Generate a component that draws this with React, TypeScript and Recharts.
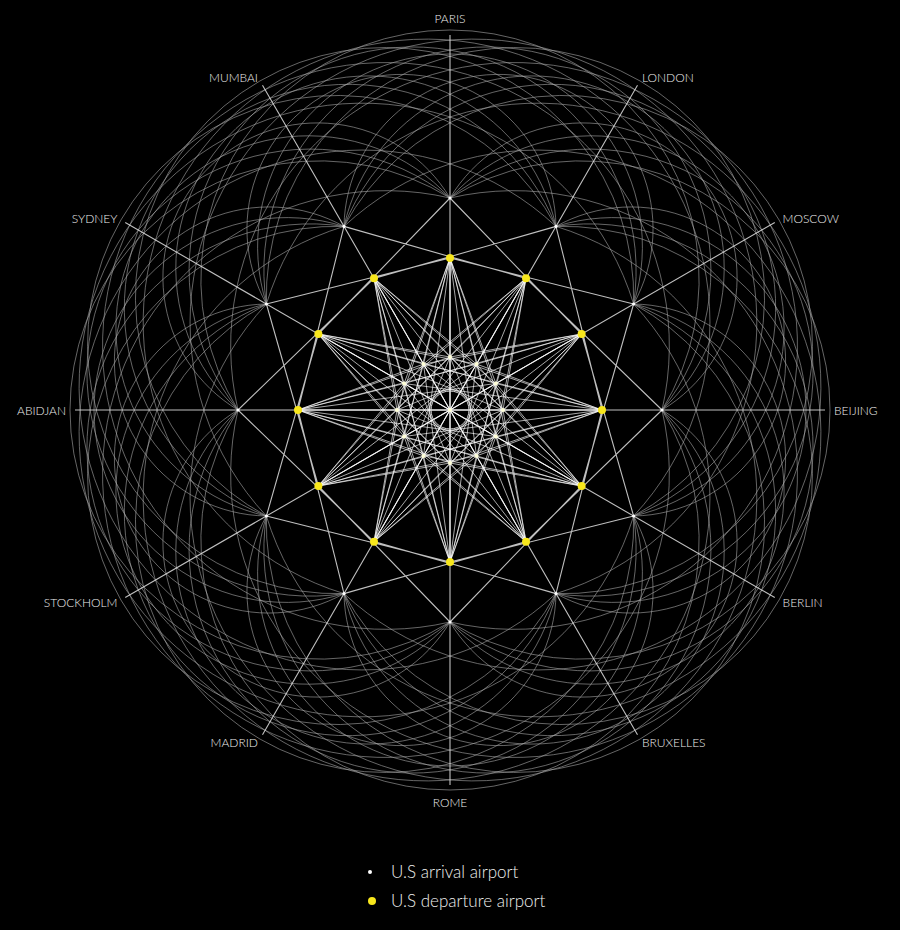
import { ScatterChart, Scatter, XAxis, YAxis } from "recharts"

// cities around the wheel, clockwise from the top
const CITIES = [
  "PARIS",
  "LONDON",
  "MOSCOW",
  "BEIJING",
  "BERLIN",
  "BRUXELLES",
  "ROME",
  "MADRID",
  "STOCKHOLM",
  "ABIDJAN",
  "SYDNEY",
  "MUMBAI",
]

// hub-to-hub flight arcs: clockwise span (in cities) and how far out each family reaches
const ARC_SPANS = [3, 4, 5, 6, 9]
const ARC_REACH = [342, 356, 368, 380, 374]
// each hub feeds the departure airports this many cities away
const FEEDER_SKIPS = [-2, 2]

const W = 900
const H = 930
const CX = 450
const CY = 410

// ring radii (chart units = px)
const ARRIVAL_R = 53
const DEPARTURE_R = 152
const HUB_R = 212
const SPOKE_R = 375

const DEG = Math.PI / 180
const STEP = 360 / CITIES.length

type Pt = { x: number; y: number }
const polar = (r: number, k: number): Pt => {
  const a = k * STEP * DEG
  return { x: r * Math.sin(a), y: r * Math.cos(a) }
}
const wrap = (k: number) => ((k % CITIES.length) + CITIES.length) % CITIES.length

const CENTER: Pt = { x: 0, y: 0 }
const arrivals = CITIES.map((_, k) => polar(ARRIVAL_R, k))
const departures = CITIES.map((_, k) => polar(DEPARTURE_R, k))
const hubs = CITIES.map((_, k) => polar(HUB_R, k))
const labels = CITIES.map((name, k) => ({ ...polar(SPOKE_R, k), name, angle: k * STEP }))

const spokeSegs: Pt[] = CITIES.flatMap((_, k) => [CENTER, polar(SPOKE_R, k)])

const feederSegs: Pt[] = CITIES.flatMap((_, k) =>
  FEEDER_SKIPS.flatMap((s) => [hubs[k], departures[wrap(k + s)]])
)

const fanSegs: Pt[] = CITIES.flatMap((_, k) => arrivals.flatMap((p) => [departures[k], p]))

// every arc leaves a hub and comes back to another hub, bulging outwards
const arcPairs: Pt[] = []
const arcRatios: number[] = []
ARC_SPANS.forEach((span, i) => {
  const reach = ARC_REACH[i]
  const half = (span * STEP * DEG) / 2
  const d = (reach ** 2 - HUB_R ** 2) / (2 * (reach - HUB_R * Math.cos(half)))
  const chord = 2 * HUB_R * Math.sin(half)
  CITIES.forEach((_, k) => {
    arcPairs.push(hubs[k], hubs[wrap(k + span)])
    arcRatios.push((reach - d) / chord)
  })
})

const segmentLine =
  (stroke: string, width: number, opacity: number) => (props: any) => {
    const pts: Pt[] = props.points || []
    let d = ""
    for (let i = 0; i + 1 < pts.length; i += 2) {
      d += `M${pts[i].x},${pts[i].y}L${pts[i + 1].x},${pts[i + 1].y}`
    }
    return <path d={d} fill="none" stroke={stroke} strokeWidth={width} strokeOpacity={opacity} />
  }

const arcLine = (ratios: number[]) => (props: any) => {
  const pts: Pt[] = props.points || []
  let d = ""
  for (let i = 0; i + 1 < pts.length; i += 2) {
    const a = pts[i]
    const b = pts[i + 1]
    const r = ratios[i / 2] * Math.hypot(b.x - a.x, b.y - a.y)
    d += `M${a.x},${a.y}A${r},${r} 0 1 1 ${b.x},${b.y}`
  }
  return <path d={d} fill="none" stroke="#a8a8a8" strokeWidth={1} strokeOpacity={0.6} />
}

const NoDot = () => <g />

const dot = (r: number, fill: string) => (props: any) =>
  <circle cx={props.cx} cy={props.cy} r={r} fill={fill} />

const CityLabel = (props: any) => {
  const { cx, cy, payload } = props
  const a = payload.angle * DEG
  const s = Math.sin(a)
  const c = Math.cos(a)
  const anchor = s > 0.1 ? "start" : s < -0.1 ? "end" : "middle"
  const dx = s * 9
  const dy = -c * (Math.abs(c) > 0.99 ? 17 : 9)
  return (
    <text
      x={cx + dx}
      y={cy + dy}
      textAnchor={anchor}
      dominantBaseline="central"
      fill="#eeeeee"
      fontSize={12}
      fontFamily="Lato, 'Open Sans', sans-serif"
      fontWeight={300}
    >
      {payload.name}
    </text>
  )
}

const CenterRing = (props: any) => (
  <circle cx={props.cx} cy={props.cy} r={19} fill="none" stroke="#ddd" strokeWidth={1} />
)

export default function App() {
  return (
    <div style={{ position: "absolute", left: 0, top: 0, width: W, height: H, background: "#000" }}>
      <ScatterChart width={W} height={H} margin={{ top: 0, right: 0, bottom: 0, left: 0 }}>
        <XAxis type="number" dataKey="x" domain={[-CX, W - CX]} hide allowDataOverflow />
        <YAxis type="number" dataKey="y" domain={[CY - H, CY]} hide allowDataOverflow />
        <Scatter data={arcPairs} line={arcLine(arcRatios)} shape={NoDot} isAnimationActive={false} />
        <Scatter data={spokeSegs} line={segmentLine("#e0e0e0", 1.1, 0.85)} shape={NoDot} isAnimationActive={false} />
        <Scatter data={feederSegs} line={segmentLine("#e0e0e0", 1.1, 0.85)} shape={NoDot} isAnimationActive={false} />
        <Scatter data={fanSegs} line={segmentLine("#ffffff", 1, 0.65)} shape={NoDot} isAnimationActive={false} />
        <Scatter data={[CENTER]} shape={CenterRing} isAnimationActive={false} />
        <Scatter data={hubs} shape={dot(1.6, "#ffffff")} isAnimationActive={false} />
        <Scatter data={[CENTER, ...arrivals]} shape={dot(2, "#ffffd8")} isAnimationActive={false} />
        <Scatter data={departures} shape={dot(4, "#f8e71c")} isAnimationActive={false} />
        <Scatter data={labels} shape={CityLabel} isAnimationActive={false} />
      </ScatterChart>
      <div style={{ position: "absolute", left: 0, top: 0, fontFamily: "Lato, 'Open Sans', sans-serif", fontWeight: 300, fontSize: 17, color: "#eee" }}>
        <span style={{ position: "absolute", left: 368, top: 870, width: 4, height: 4, borderRadius: 2, background: "#fff" }} />
        <span style={{ position: "absolute", left: 391, top: 860, whiteSpace: "nowrap", lineHeight: "24px" }}>U.S arrival airport</span>
        <span style={{ position: "absolute", left: 368, top: 897, width: 8, height: 8, borderRadius: 4, background: "#f8e71c" }} />
        <span style={{ position: "absolute", left: 391, top: 889, whiteSpace: "nowrap", lineHeight: "24px" }}>U.S departure airport</span>
      </div>
    </div>
  )
}
